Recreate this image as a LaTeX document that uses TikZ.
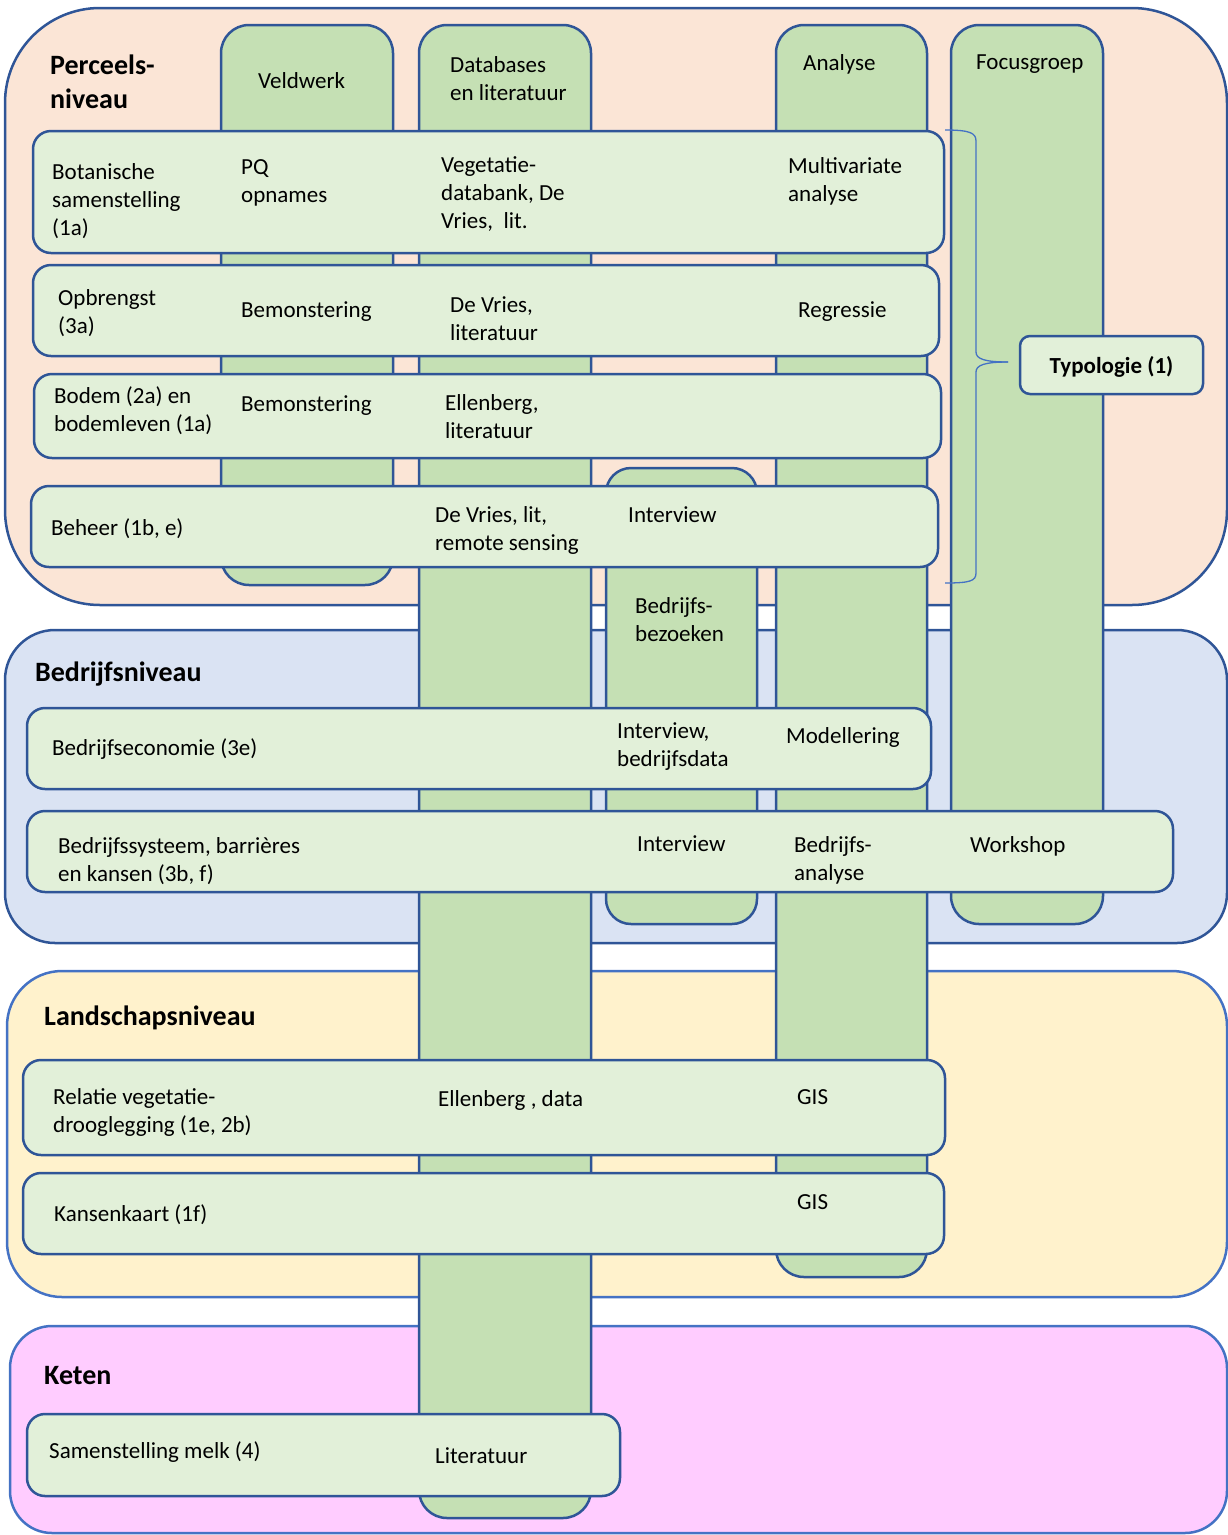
\documentclass[tikz,border=0pt]{standalone}
\usepackage{fontspec}
\setmainfont{Carlito}
\definecolor{dkblue}{HTML}{2F5597}
\definecolor{mdblue}{HTML}{4472C4}
\definecolor{peach}{HTML}{FBE5D6}
\definecolor{ltblue}{HTML}{DAE3F3}
\definecolor{ltyellow}{HTML}{FFF2CC}
\definecolor{ltpink}{HTML}{FFCCFF}
\definecolor{colgreen}{HTML}{C5E0B4}
\definecolor{rowgreen}{HTML}{E2F0D9}
\tikzset{
  shp/.style={rectangle, anchor=north west, inner sep=0pt, outer sep=0pt, line width=2.5pt},
  lvlbox/.style={shp, draw=dkblue},
  colbox/.style={shp, draw=dkblue, fill=colgreen, rounded corners=28pt},
  rowbox/.style={shp, draw=dkblue, fill=rowgreen, rounded corners=18pt},
  lbl/.style={anchor=base west, inner sep=0pt, align=left, font=\fontsize{23}{28}\selectfont},
  head/.style={anchor=base west, inner sep=0pt, align=left, font=\fontsize{28}{34}\selectfont\bfseries},
  bracepath/.style={draw=mdblue, line width=1.3pt}
}
\newcommand\mkbox[5]{\node[#1, minimum width=#4pt, minimum height=#5pt] (#2) at (#3) {};}
\begin{document}
\begin{tikzpicture}[x=1pt,y=-1pt]
\useasboundingbox (0,0) rectangle (1227,1535);
% level backgrounds
\mkbox{lvlbox, fill=peach, rounded corners=95pt}{lvP}{5,8}{1222}{597}
\mkbox{lvlbox, fill=ltblue, rounded corners=50pt}{lvB}{5,630}{1222}{313}
\mkbox{lvlbox, draw=mdblue, fill=ltyellow, rounded corners=55pt}{lvL}{7,971}{1220}{326}
\mkbox{lvlbox, draw=mdblue, fill=ltpink, rounded corners=42pt}{lvK}{10,1326}{1217}{207}
% columns
\mkbox{colbox}{cV}{221,25}{172}{560}
\mkbox{colbox}{cD}{419,25}{172}{1493}
\mkbox{colbox, rounded corners=25pt}{cB}{606,468}{151}{456}
\mkbox{colbox}{cA}{776,25}{151}{1252}
\mkbox{colbox}{cF}{951,25}{152}{899}
% rows
\mkbox{rowbox}{r1}{33,131}{911}{122}
\mkbox{rowbox}{r2}{33,265}{906}{91}
\mkbox{rowbox}{r3}{34,374}{907}{84}
\mkbox{rowbox}{r4}{31,486}{907}{81}
\mkbox{rowbox}{r5}{27,708}{904}{81}
\mkbox{rowbox}{r6}{27,811}{1146}{81}
\mkbox{rowbox}{r7}{23,1060}{922}{95}
\mkbox{rowbox}{r8}{23,1173}{921}{81}
\mkbox{rowbox}{r9}{27,1414}{593}{82}
% typologie
\mkbox{rowbox, rounded corners=10pt}{typ}{1020,336}{183}{58}
\node[font=\fontsize{23}{28}\selectfont\bfseries, inner sep=0pt] (typt) at ([yshift=-2pt]typ.center) {Typologie (1)};
% brace
\coordinate (bt) at (945,130);
\coordinate (bb) at (945,583);
\coordinate (bm) at (1008,362);
\draw[bracepath] (bt) .. controls (970,130) and (976,133) .. (976,141) -- (976,352)
  .. controls (976,359) and (985,362) .. (bm);
\draw[bracepath] (bm) .. controls (985,362) and (976,365) .. (976,372) -- (976,573)
  .. controls (976,581) and (970,583) .. (bb);
% headings
\node[head] (hP) at (50,108) {Perceels-\\niveau};
\node[head] (hB) at (35,681) {Bedrijfsniveau};
\node[head] (hL) at (44,1025) {Landschapsniveau};
\node[head] (hK) at (44,1384) {Keten};
% column labels
\node[lbl] (tV) at (258,88) {Veldwerk};
\node[lbl] (tD) at (450,100) {Databases\\en literatuur};
\node[lbl] (tA) at (803,70) {Analyse};
\node[lbl] (tF) at (976,69) {Focusgroep};
\node[lbl] (tB) at (635,641) {Bedrijfs-\\bezoeken};
% row 1
\node[lbl] (t1a) at (52,235) {Botanische\\samenstelling\\(1a)};
\node[lbl] (t1b) at (241,202) {PQ\\opnames};
\node[lbl] (t1c) at (441,228) {Vegetatie-\\databank, De\\Vries,\ \ lit.};
\node[lbl] (t1d) at (788,201) {Multivariate\\analyse};
% row 2
\node[lbl] (t2a) at (58,333) {Opbrengst\\(3a)};
\node[lbl] (t2b) at (241,317) {Bemonstering};
\node[lbl] (t2c) at (450,340) {De Vries,\\literatuur};
\node[lbl] (t2d) at (798,317) {Regressie};
% row 3
\node[lbl] (t3a) at (54,431) {Bodem (2a) en\\bodemleven (1a)};
\node[lbl] (t3b) at (241,411) {Bemonstering};
\node[lbl] (t3c) at (445,438) {Ellenberg,\\literatuur};
% row 4
\node[lbl] (t4a) at (51,535) {Beheer (1b, e)};
\node[lbl] (t4c) at (435,550) {De Vries, lit,\\remote sensing};
\node[lbl] (t4d) at (628,522) {Interview};
% row 5
\node[lbl] (t5a) at (52,755) {Bedrijfseconomie (3e)};
\node[lbl] (t5b) at (617,766) {Interview,\\bedrijfsdata};
\node[lbl] (t5c) at (786,743) {Modellering};
% row 6
\node[lbl] (t6a) at (58,881) {Bedrijfssysteem, barrières\\en kansen (3b, f)};
\node[lbl] (t6b) at (637,851) {Interview};
\node[lbl] (t6c) at (794,880) {Bedrijfs-\\analyse};
\node[lbl] (t6d) at (970,852) {Workshop};
% row 7
\node[lbl] (t7a) at (53,1132) {Relatie vegetatie-\\drooglegging (1e, 2b)};
\node[lbl] (t7b) at (438,1106) {Ellenberg , data};
\node[lbl] (t7c) at (797,1104) {GIS};
% row 8
\node[lbl] (t8a) at (54,1221) {Kansenkaart (1f)};
\node[lbl] (t8c) at (797,1209) {GIS};
% row 9
\node[lbl] (t9a) at (49,1458) {Samenstelling melk (4)};
\node[lbl] (t9b) at (435,1463) {Literatuur};
\end{tikzpicture}
\end{document}
